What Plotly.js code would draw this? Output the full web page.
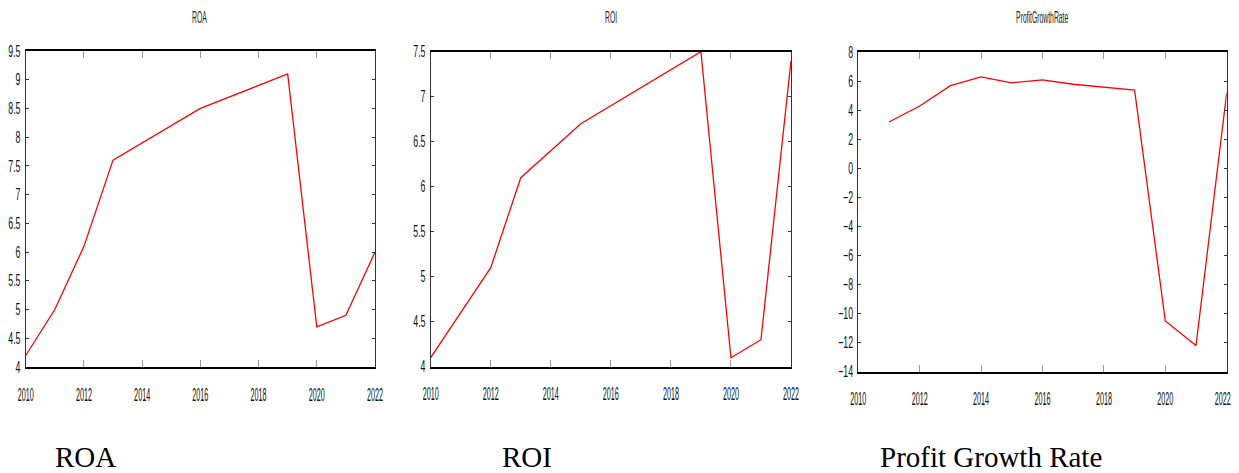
<!DOCTYPE html>
<html>
<head>
<meta charset="utf-8">
<script src="https://cdn.plot.ly/plotly-3.0.1.min.js"></script>
<style>
html,body{margin:0;padding:0;background:#fff;}
#chart{width:1239px;height:473px;}
</style>
</head>
<body>
<div id="chart"></div>
<script>
// ---- data ----
const panelTitles = ["ROA", "ROI", "ProfitGrowthRate"];
const bottomLabels = ["ROA", "ROI", "Profit Growth Rate"];

const roaYears = [2010, 2011, 2012, 2013, 2016, 2019, 2020, 2021, 2022];
const roaValues = [4.2, 5.0, 6.1, 7.6, 8.5, 9.1, 4.7, 4.9, 6.0];

const roiYears = [2010, 2012, 2013, 2015, 2019, 2020, 2021, 2022];
const roiValues = [4.1, 5.1, 6.1, 6.7, 7.5, 4.1, 4.3, 7.4];

const pgrYears = [2011, 2012, 2013, 2014, 2015, 2016, 2017, 2018, 2019, 2020, 2021, 2022];
const pgrValues = [3.2, 4.3, 5.7, 6.3, 5.9, 6.1, 5.8, 5.6, 5.4, -10.5, -12.2, 5.2];

const xTickVals = [2010, 2012, 2014, 2016, 2018, 2020, 2022];

// ---- layout geometry ----
const W = 1239, H = 473;
const px = v => v / W, py = v => 1 - v / H;
const boxes = [
  {x0: 25.7, x1: 375, yTop: 51, yBot: 367, range: [4, 9.5], dtick: 0.5},
  {x0: 430.7, x1: 791, yTop: 51.7, yBot: 366.7, range: [4, 7.5], dtick: 0.5},
  {x0: 858.3, x1: 1226.7, yTop: 52.3, yBot: 371.7, range: [-14, 8], dtick: 2}
];
const titleCenters = [200, 611, 1041.7];
const bottomCenters = [85, 527, 991];

const tickFont = {family: "Liberation Sans, Arial, sans-serif", size: 18, color: "#111"};

const series = [[roaYears, roaValues], [roiYears, roiValues], [pgrYears, pgrValues]];
const data = series.map((s, i) => ({
  x: s[0], y: s[1], type: "scatter", mode: "lines",
  line: {color: "#ff0000", width: 1.3},
  xaxis: i === 0 ? "x" : "x" + (i + 1),
  yaxis: i === 0 ? "y" : "y" + (i + 1),
  showlegend: false, hoverinfo: "skip", cliponaxis: false
}));

const layout = {
  width: W, height: H,
  margin: {l: 0, r: 0, t: 0, b: 0, pad: 0},
  paper_bgcolor: "#fff", plot_bgcolor: "#fff",
  showlegend: false,
  annotations: []
};

boxes.forEach((b, i) => {
  const xs = i === 0 ? "xaxis" : "xaxis" + (i + 1);
  const ys = i === 0 ? "yaxis" : "yaxis" + (i + 1);
  const yref = i === 0 ? "y" : "y" + (i + 1);
  const xref = i === 0 ? "x" : "x" + (i + 1);
  layout[xs] = {
    domain: [px(b.x0), px(b.x1)], anchor: yref,
    range: [2010, 2022], tickvals: xTickVals, ticktext: xTickVals.map(String),
    showgrid: false, zeroline: false,
    showline: true, linecolor: "#000", linewidth: 2, mirror: "allticks",
    ticks: "inside", ticklen: 7, tickwidth: 1, tickcolor: "#999",
    tickfont: tickFont, ticklabelstandoff: 10, ticklabeloverflow: "allow",
    fixedrange: true
  };
  layout[ys] = {
    domain: [py(b.yBot), py(b.yTop)], anchor: xref,
    range: b.range, dtick: b.dtick, tick0: b.range[0],
    showgrid: false, zeroline: false,
    showline: true, linecolor: "#333", linewidth: 1, mirror: "allticks",
    ticks: "inside", ticklen: 3, tickwidth: 1, tickcolor: "#333",
    tickfont: Object.assign({}, tickFont, {size: 16}), ticklabelstandoff: 1,
    ticklabeloverflow: "allow", fixedrange: true
  };
  layout.annotations.push({
    xref: "paper", yref: "paper", x: px(titleCenters[i]), y: py(18),
    xanchor: "center", yanchor: "middle", showarrow: false,
    text: panelTitles[i],
    font: {family: "Liberation Sans, Arial, sans-serif", size: 17, color: "#222"}
  });
});
bottomLabels.forEach((t, i) => {
  layout.annotations.push({
    xref: "paper", yref: "paper", x: px(bottomCenters[i]), y: py(457),
    xanchor: "center", yanchor: "middle", showarrow: false,
    text: t,
    font: {family: "Liberation Serif, Times New Roman, serif", size: 29, color: "#000"}
  });
});

function squeeze(selector, factor) {
  document.querySelectorAll(selector).forEach(t => {
    const L = t.getComputedTextLength();
    if (L > 0) {
      t.setAttribute("textLength", (L * factor).toFixed(2));
      t.setAttribute("lengthAdjust", "spacingAndGlyphs");
    }
  });
}

Plotly.newPlot("chart", data, layout, {staticPlot: true, displayModeBar: false}).then(() => {
  squeeze(".xtick text, .x2tick text, .x3tick text", 0.4);
  squeeze(".ytick text, .y2tick text, .y3tick text", 0.55);
  squeeze('.annotation[data-index="0"] text, .annotation[data-index="1"] text, .annotation[data-index="2"] text', 0.4);
  // keep the right-most label of the last panel inside the page
  const last = Array.from(document.querySelectorAll(".x3tick text")).pop();
  if (last) {
    const w = parseFloat(last.getAttribute("textLength")) || 0;
    last.setAttribute("text-anchor", "end");
    last.style.textAnchor = "end";
    last.setAttribute("dx", (w / 2 - 4).toFixed(2));
  }
});
</script>
</body>
</html>
